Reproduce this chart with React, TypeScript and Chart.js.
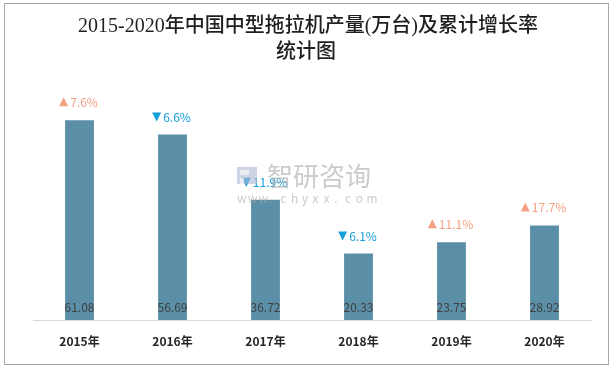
import React, { useEffect, useRef } from "react";
import { Chart, registerables } from "chart.js";

Chart.register(...registerables);

const categories = ["2015年", "2016年", "2017年", "2018年", "2019年", "2020年"];
const output = [61.08, 56.69, 36.72, 20.33, 23.75, 28.92];
const growth = [7.6, -6.6, -11.9, -6.1, 11.1, 17.7];
const titleLines = ["2015-2020年中国中型拖拉机产量(万台)及累计增长率", "统计图"];

const BAR = "#5B8FA7";
const UP = "#F4A083";
const DOWN = "#14A0DC";
const SANS = "'Noto Sans CJK SC', 'Noto Sans', sans-serif";
const SERIF = "'Liberation Serif', 'DejaVu Serif', 'Noto Sans CJK SC', serif";

const decor = {
  id: "decor",
  beforeDraw(chart: any) {
    const { ctx, width, height } = chart;
    ctx.save();
    ctx.fillStyle = "#ffffff";
    ctx.fillRect(0, 0, width, height);
    ctx.strokeStyle = "#a6a6a6";
    ctx.lineWidth = 1;
    ctx.strokeRect(4.5, 3.5, 604, 361);
    ctx.fillStyle = "#1f1f1f";
    ctx.font = `500 20px ${SERIF}`;
    ctx.textAlign = "center";
    ctx.textBaseline = "middle";
    ctx.fillText(titleLines[0], 308, 27);
    ctx.fillText(titleLines[1], 306, 53);
    ctx.restore();
  },
  afterDatasetsDraw(chart: any) {
    const { ctx } = chart;
    const meta = chart.getDatasetMeta(0);
    ctx.save();
    meta.data.forEach((bar: any, i: number) => {
      ctx.font = `12px ${SANS}`;
      ctx.fillStyle = "#404040";
      ctx.textAlign = "center";
      ctx.textBaseline = "middle";
      ctx.fillText(output[i].toFixed(2), bar.x, chart.chartArea.bottom - 13);
      const g = growth[i];
      const up = g >= 0;
      const txt = Math.abs(g).toFixed(1) + "%";
      ctx.font = `12px ${SANS}`;
      const tw = ctx.measureText(txt).width;
      const triW = 9;
      const gap = 2;
      const total = triW + gap + tw;
      const x0 = bar.x - total / 2 - 1;
      const cy = bar.y - 18;
      ctx.fillStyle = up ? UP : DOWN;
      ctx.beginPath();
      if (up) {
        ctx.moveTo(x0, cy + 4);
        ctx.lineTo(x0 + triW, cy + 4);
        ctx.lineTo(x0 + triW / 2, cy - 5);
      } else {
        ctx.moveTo(x0, cy - 4);
        ctx.lineTo(x0 + triW, cy - 4);
        ctx.lineTo(x0 + triW / 2, cy + 5);
      }
      ctx.closePath();
      ctx.fill();
      ctx.textAlign = "left";
      ctx.fillText(txt, x0 + triW + gap, cy + 0.5);
    });
    ctx.restore();
  },
  afterDraw(chart: any) {
    const { ctx } = chart;
    ctx.save();
    ctx.globalAlpha = 0.6;
    ctx.fillStyle = "#aab6cf";
    ctx.fillRect(237, 167, 20, 17);
    ctx.fillStyle = "#ffffff";
    ctx.fillRect(240, 170, 9, 5);
    ctx.fillRect(240, 178, 4, 6);
    ctx.fillStyle = "#a8a8a8";
    ctx.font = `26px ${SANS}`;
    ctx.textAlign = "left";
    ctx.textBaseline = "middle";
    ctx.fillText("智研咨询", 267, 176);
    ctx.font = `12px ${SANS}`;
    const s = "www.chyxx.com";
    let x = 237;
    for (const ch of s) {
      ctx.fillText(ch, x, 198);
      x += 10.8;
    }
    ctx.restore();
  },
};

export default function App() {
  const ref = useRef<HTMLCanvasElement>(null);
  useEffect(() => {
    if (!ref.current) return;
    const chart = new Chart(ref.current, {
      type: "bar",
      data: {
        labels: categories,
        datasets: [
          {
            data: output,
            backgroundColor: BAR,
            borderWidth: 0,
            barPercentage: 0.31,
            categoryPercentage: 1,
          },
        ],
      },
      options: {
        responsive: false,
        animation: false,
        layout: { padding: { left: 33, right: 22, top: 91, bottom: 6.6 } },
        plugins: {
          legend: { display: false },
          tooltip: { enabled: false },
          title: { display: false },
        },
        scales: {
          x: {
            grid: { display: false, drawTicks: false },
            border: { display: true, color: "#d9d9d9", width: 1 },
            ticks: {
              color: "#262626",
              font: { family: SANS, size: 12, weight: "bold" },
              padding: 14,
            },
          },
          y: {
            display: false,
            min: 0,
            max: 70,
          },
        },
      },
      plugins: [decor],
    });
    return () => chart.destroy();
  }, []);
  return (
    <div style={{ position: "absolute", left: 0, top: 0, width: 613, height: 369 }}>
      <canvas ref={ref} width={613} height={369} style={{ display: "block" }} />
    </div>
  );
}
